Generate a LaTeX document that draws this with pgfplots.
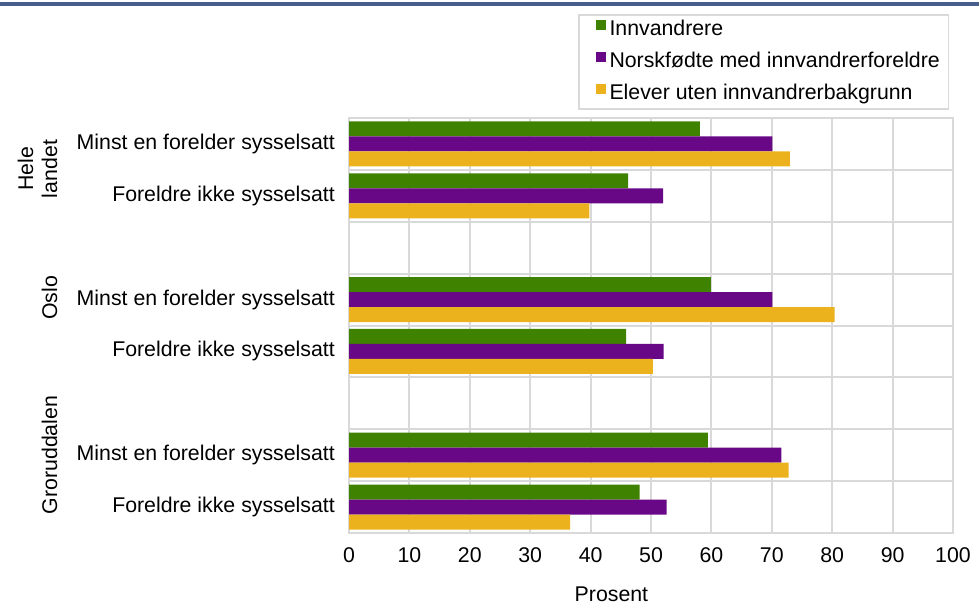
\documentclass[border=0pt]{standalone}
\usepackage{fontspec}
\setmainfont{Liberation Sans}
\usepackage{pgfplots}
\pgfplotsset{compat=1.18}
\definecolor{cgreen}{RGB}{63,130,0}
\definecolor{cpurple}{RGB}{104,8,135}
\definecolor{cyellow}{RGB}{235,178,30}
\definecolor{cgrid}{RGB}{217,217,217}
\definecolor{cblue}{RGB}{72,94,140}
\begin{document}
\begin{tikzpicture}
\useasboundingbox (0,0) rectangle (979bp,607bp);
\fill[cblue] (0,601bp) rectangle (979bp,605bp);
\begin{axis}[
  at={(349bp,74bp)}, anchor=south west,
  scale only axis, width=604bp, height=415bp,
  xbar, bar width=0.2885,
  y dir=reverse,
  xmin=0, xmax=100, ymin=-0.5, ymax=7.5,
  xtick={0,10,...,100},
  ytick={0,1,3,4,6,7},
  yticklabels={Minst en forelder sysselsatt, Foreldre ikke sysselsatt, Minst en forelder sysselsatt, Foreldre ikke sysselsatt, Minst en forelder sysselsatt, Foreldre ikke sysselsatt},
  minor ytick={-0.5,0.5,1.5,2.5,3.5,4.5,5.5,6.5,7.5},
  xmajorgrids, yminorgrids,
  grid style={cgrid, line width=2bp},
  minor grid style={cgrid, line width=2bp},
  axis line style={cgrid, line width=2bp},
  major tick length=0pt, minor tick length=0pt,
  tick style={draw=none},
  font=\fontsize{21.3bp}{25bp}\selectfont,
  /pgf/number format/assume math mode=true,
  xticklabel style={inner sep=0pt, yshift=-14bp},
  yticklabel style={inner sep=0pt, xshift=-14bp},
  xlabel={Prosent},
  xlabel style={at={(axis description cs:0.4345,-0.1645)}, anchor=base, inner sep=0pt},
  legend style={at={(axis description cs:0.3796,1.2506)}, anchor=north west,
    draw=cgrid, line width=1.5bp, fill=white, inner sep=5bp, row sep=12bp,
    font=\fontsize{21.3bp}{25bp}\selectfont,
    nodes={inner xsep=3.5bp, inner ysep=0bp, text height=15.5bp, text depth=4.5bp}},
  legend cell align=left,
  legend image code/.code={\path (0bp,0bp); \fill[#1] (12bp,0bp) rectangle (22bp,10bp);},
]
\addplot[fill=cgreen, draw=none, bar shift=-0.2885] coordinates {(58.1,0) (46.2,1) (59.9,3) (45.9,4) (59.4,6) (48.1,7)};
\addplot[fill=cpurple, draw=none, bar shift=0] coordinates {(70.1,0) (52.0,1) (70.1,3) (52.1,4) (71.6,6) (52.6,7)};
\addplot[fill=cyellow, draw=none, bar shift=0.2885] coordinates {(73.0,0) (39.8,1) (80.4,3) (50.3,4) (72.8,6) (36.6,7)};
\legend{Innvandrere, Norskfødte med innvandrerforeldre, Elever uten innvandrerbakgrunn}
\end{axis}
\begin{scope}[font=\fontsize{21.3bp}{25bp}\selectfont]
\node[rotate=90, anchor=base, inner sep=0pt] at (33bp,438bp) {Hele};
\node[rotate=90, anchor=base, inner sep=0pt] at (57bp,438bp) {landet};
\node[rotate=90, anchor=base, inner sep=0pt] at (57bp,309bp) {Oslo};
\node[rotate=90, anchor=base, inner sep=0pt] at (57bp,152bp) {Groruddalen};
\end{scope}
\end{tikzpicture}
\end{document}
